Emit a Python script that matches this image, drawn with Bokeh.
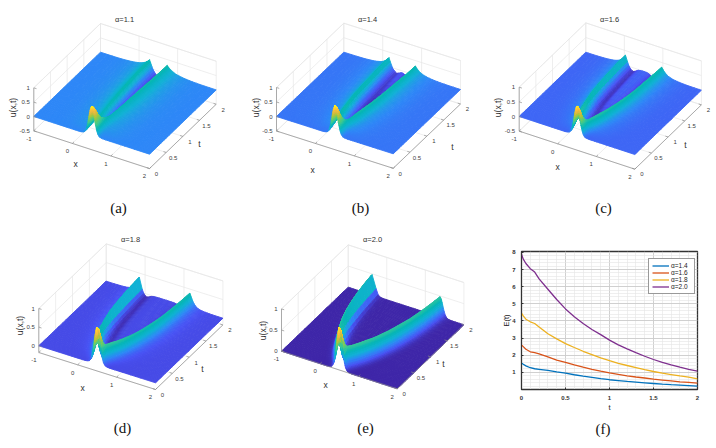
import numpy as np
from bokeh.embed import file_html
from bokeh.resources import INLINE
from bokeh.layouts import column, row
from bokeh.models import Range1d, FixedTicker, Legend, LegendItem, Title
from bokeh.plotting import figure
from bokeh.core.properties import value

# ---- values ----------------------------------------------------------
T_ROWS = [0, .05, .1, .15, .2, .3, .4, .5, .6, .8, 1, 1.25, 1.5, 1.75, 2]
RIDGE_TRAVEL_11 = [0, .015, .03, .045, .06, .08, .095, .11, .12, .145, .165, .185, .205, .22, .23]
RIDGE_TRAVEL_14 = [0, .02, .045, .065, .085, .125, .155, .18, .2, .24, .27, .29, .31, .33, .34]
RIDGE_TRAVEL_16 = [0, .03, .06, .09, .12, .175, .22, .255, .285, .34, .385, .42, .44, .46, .47]
RIDGE_TRAVEL_18 = [0, .04, .085, .125, .165, .24, .3, .35, .4, .47, .53, .58, .61, .635, .65]
RIDGE_TRAVEL_20 = [0, .05, .1, .15, .195, .28, .35, .415, .475, .58, .66, .74, .8, .845, .88]
RIDGE_U_11 = [.5, .48, .45, .42, .39, .35, .33, .32, .32, .31, .31, .31, .3, .3, .3]
RIDGE_U_14 = [.5, .485, .46, .43, .4, .37, .36, .35, .34, .33, .33, .32, .32, .31, .31]
RIDGE_U_16 = [.5, .49, .47, .45, .43, .40, .39, .38, .37, .36, .36, .35, .35, .35, .34]
RIDGE_U_18 = [.5, .49, .48, .47, .46, .44, .43, .42, .41, .40, .40, .39, .39, .39, .39]
RIDGE_U_20 = [.5, .5, .5, .5, .5, .5, .5, .49, .49, .49, .49, .48, .48, .48, .48]
TAIL_WEIGHT = [0, .1, .25, .36, .45, .6, .7, .76, .82, .9, .95, 1, 1, 1, 1]
DIST = [0, .02, .04, .06, .08, .1, .13, .16, .2, .25, .32, .4, .5, .65, .85, 1.1]
PULSE = [1, .96, .86, .72, .55, .4, .22, .1, .03, .01, 0, 0, 0, 0, 0, 0]
OUTER_11 = [1, .88, .78, .7, .62, .56, .48, .42, .34, .27, .2, .14, .09, .04, .01, 0]
OUTER_14 = [1, .88, .77, .68, .6, .53, .44, .37, .29, .23, .16, .11, .07, .03, .01, 0]
OUTER_16 = [1, .88, .77, .66, .58, .49, .4, .32, .25, .18, .12, .08, .045, .015, 0, 0]
OUTER_18 = [1, .88, .75, .62, .5, .4, .29, .2, .13, .08, .04, .02, .01, 0, 0, 0]
INNER_11 = [1, .8, .58, .36, .16, 0, -.17, -.3, -.36, -.28, -.12, -.04, 0, 0, 0, 0]
INNER_14 = [1, .8, .55, .32, .12, -.05, -.22, -.36, -.46, -.36, -.14, -.04, 0, 0, 0, 0]
INNER_16 = [1, .82, .58, .34, .14, 0, -.18, -.3, -.38, -.28, -.1, -.03, 0, 0, 0, 0]
INNER_18 = [1, .85, .62, .4, .2, .06, -.08, -.16, -.2, -.14, -.05, -.01, 0, 0, 0, 0]
PANEL_ALPHA = ["1.1", "1.4", "1.6", "1.8", "2.0"]
PANEL_TAG = ["(a)", "(b)", "(c)", "(d)", "(e)", "(f)"]
X_TICKS = [-1, 0, 1, 2]
T_TICKS = [0, .5, 1, 1.5, 2]
T_TICK_LABELS = ["0", "0.5", "1", "1.5", "2"]

ENERGY_T = [0, .02, .05, .1, .15, .2, .3, .4, .5, .6, .7, .8, .9, 1, 1.1, 1.2, 1.3, 1.4, 1.5, 1.6, 1.7, 1.8, 1.9, 2]
ENERGY_14 = [1.55, 1.47, 1.38, 1.27, 1.21, 1.18, 1.12, 1.03, .95, .86, .78, .71, .63, .57, .52, .47, .43, .39, .35, .31, .28, .26, .23, .2]
ENERGY_16 = [2.6, 2.5, 2.35, 2.2, 2.15, 2.08, 1.9, 1.72, 1.58, 1.43, 1.3, 1.18, 1.07, .97, .88, .8, .73, .67, .6, .55, .5, .45, .41, .37]
ENERGY_18 = [4.45, 4.3, 4.1, 3.95, 3.85, 3.65, 3.25, 2.95, 2.68, 2.45, 2.23, 2.04, 1.85, 1.68, 1.53, 1.4, 1.28, 1.16, 1.05, .95, .87, .79, .72, .62]
ENERGY_20 = [7.9, 7.6, 7.35, 7.05, 6.85, 6.45, 5.85, 5.25, 4.7, 4.25, 3.85, 3.5, 3.2, 2.88, 2.6, 2.37, 2.15, 1.94, 1.75, 1.58, 1.43, 1.3, 1.18, 1.07]

SURFACES = [
    (RIDGE_TRAVEL_11, RIDGE_U_11, OUTER_11, INNER_11),
    (RIDGE_TRAVEL_14, RIDGE_U_14, OUTER_14, INNER_14),
    (RIDGE_TRAVEL_16, RIDGE_U_16, OUTER_16, INNER_16),
    (RIDGE_TRAVEL_18, RIDGE_U_18, OUTER_18, INNER_18),
    (RIDGE_TRAVEL_20, RIDGE_U_20, PULSE, PULSE),
]

# ---- view geometry of each 3-D box (page pixels) -----------------------
CELLS = [(0, 0, 239, 224), (239, 0, 239, 224), (478, 0, 238, 224), (0, 224, 239, 224), (239, 224, 239, 224)]
VIEWS = [
    dict(c00=(33.3, 116), c10=(149, 153.7), c02=(100, 51.7), zs=28.7, zmin=-.5, zt=[-.5, 0, .5, 1], clo=-.25,
         title=(124, 19), tag=(118, 207), ul=(12, 107), xl=(75, 163), tl=(199, 143)),
    dict(c00=(276, 116), c10=(392.7, 153.3), c02=(343.3, 51.7), zs=29, zmin=-.5, zt=[-.5, 0, .5, 1], clo=-.2,
         title=(367, 19), tag=(360, 207), ul=(255, 107), xl=(312, 169), tl=(452, 146)),
    dict(c00=(518.7, 116), c10=(634.3, 154), c02=(585.3, 51.7), zs=29.3, zmin=-.5, zt=[-.5, 0, .5, 1], clo=-.16,
         title=(609, 19), tag=(603, 207), ul=(497, 107), xl=(557, 166), tl=(685, 144)),
    dict(c00=(38.3, 345.3), c10=(155, 382.3), c02=(105.7, 280.7), zs=37.3, zmin=-.18, zt=[0, .5, 1], clo=-.09,
         title=(130, 239), tag=(122, 427), ul=(19, 325), xl=(82, 387), tl=(202, 368)),
    dict(c00=(281, 350.7), c10=(396.7, 388.3), c02=(347.7, 286.7), zs=42.3, zmin=0, zt=[0, .5, 1], clo=0,
         title=(372, 239), tag=(365, 427), ul=(262, 330), xl=(325, 384), tl=(443, 363)),
]
PAR_POS = [0, .1, .2, .3, .4, .5, .6, .7, .8, .9, 1]
PAR_R = [.2422, .281, .1786, .0689, .0215, .2161, .4, .672, .88, .997, .9769]
PAR_G = [.1504, .3228, .5289, .6948, .7121, .7843, .8, .7793, .72, .7659, .9839]
PAR_B = [.6603, .9579, .9682, .8394, .7121, .5923, .42, .2227, .25, .2199, .0805]


def parula(f):
    f = float(np.clip(f, 0, 1))
    return "#%02x%02x%02x" % tuple(int(round(255 * np.interp(f, PAR_POS, c))) for c in (PAR_R, PAR_G, PAR_B))


def make_projection(v):
    c00, c10, c02 = map(np.array, (v["c00"], v["c10"], v["c02"]))

    def proj(x, t, z):
        a, b = (np.asarray(x, float) + 1) / 3, np.asarray(t, float) / 2
        px = c00[0] + a * (c10[0] - c00[0]) + b * (c02[0] - c00[0])
        py = c00[1] + a * (c10[1] - c00[1]) + b * (c02[1] - c00[1]) - np.asarray(z, float) * v["zs"]
        return px, py
    return proj


def side_profile(dist, t, table):
    w = np.interp(t, T_ROWS, TAIL_WEIGHT)
    return (1 - w) * np.interp(dist, DIST, PULSE) + w * np.interp(dist, DIST, table)


def halves(values):
    v = list(values)
    return sorted(set(v) | {(a + b) / 2 for a, b in zip(v[:-1], v[1:])})


def surface_rows(spec):
    travel, amp, outer, inner = spec
    # rendering rows and columns: the table's, each shaded across two steps
    rows = halves(T_ROWS)
    d = np.array(halves(DIST)[1:])
    frac = np.array(halves([.06, .12, .18, .24, .3, .36, .43, .5, .57, .64, .7, .76, .82, .88, .94]))
    xs, us = [], []
    for t in rows:
        f, A = np.interp(t, T_ROWS, travel), np.interp(t, T_ROWS, amp)
        xl, xr = .5 - f, .5 + f
        col = np.concatenate([[-1], np.clip(xl - d[::-1], -1, 2), [xl], xl + frac * (xr - xl), [xr],
                              np.clip(xr + d, -1, 2), [2]])
        u = np.zeros_like(col)
        for i, x in enumerate(col):
            left = side_profile(xl - x, t, outer) if x < xl else side_profile(x - xl, t, inner)
            right = side_profile(x - xr, t, outer) if x > xr else side_profile(xr - x, t, inner)
            u[i] = A * (left + right)
        xs.append(col)
        us.append(u)
    return np.array(rows), np.array(xs), np.array(us)


def text(p, x, y, s, size, color="#404040", align="center", angle=0, font="Liberation Sans"):
    p.text([x], [y], text=[s], text_font=value(font), text_font_size=f"{size}px", text_color=color,
           text_align=align, text_baseline="middle", angle=angle)


def surface_panel(i):
    v, (ox, oy, w, h) = VIEWS[i], CELLS[i]
    p = figure(width=w, height=h, output_backend="svg", toolbar_location=None,
               x_range=Range1d(ox, ox + w), y_range=Range1d(oy + h, oy), min_border=0, frame_align=False)
    p.axis.visible = False
    p.grid.visible = False
    p.outline_line_color = None
    proj = make_projection(v)
    zmin, zmax = v["zmin"], 1

    # walls and floor of the box
    gx, gy = [], []

    def poly(pts):
        px, py = proj(*zip(*pts))
        gx.append(list(px))
        gy.append(list(py))
    for z in v["zt"] + [zmax]:
        poly([(-1, 0, z), (-1, 2, z), (2, 2, z)])
    for t in T_TICKS:
        poly([(-1, t, zmax), (-1, t, zmin), (2, t, zmin)])
    for x in X_TICKS:
        poly([(x, 2, zmax), (x, 2, zmin), (x, 0, zmin)])
    p.multi_line(gx, gy, line_color="#e6e6e6", line_width=.7)

    # surface
    rows, xs, us = surface_rows(SURFACES[i])
    lo = v["clo"]
    cells = []
    for r in range(len(rows) - 1):
        for c in range(xs.shape[1] - 1):
            qx = [xs[r, c], xs[r, c + 1], xs[r + 1, c + 1], xs[r + 1, c]]
            qt = [rows[r], rows[r], rows[r + 1], rows[r + 1]]
            qu = [us[r, c], us[r, c + 1], us[r + 1, c + 1], us[r + 1, c]]
            if max(qx) - min(qx) < 1e-9:
                continue
            bx, by = proj(qx, qt, np.zeros(4))
            sx, sy = proj(qx, qt, qu)
            cells.append((float(np.mean(by)), list(sx), list(sy), parula((np.mean(qu) - lo) / (1 - lo))))
    cells.sort(key=lambda q: q[0])
    p.patches([q[1] for q in cells], [q[2] for q in cells], fill_color=[q[3] for q in cells],
              line_color=[q[3] for q in cells], line_width=.9)

    # axes
    ax, ay = [], []

    def seg(pts):
        px, py = proj(*zip(*pts))
        ax.append(list(px))
        ay.append(list(py))
    seg([(-1, 0, zmin), (2, 0, zmin), (2, 2, zmin)])
    seg([(-1, 0, zmin), (-1, 0, zmax)])
    for x in X_TICKS:
        seg([(x, 0, zmin), (x, .05, zmin)])
        px, py = proj(x, 0, zmin)
        text(p, float(px) - 5, float(py) + 7.7, str(x), 6)
    for t, lab in zip(T_TICKS, T_TICK_LABELS):
        seg([(2, t, zmin), (1.93, t, zmin)])
        px, py = proj(2, t, zmin)
        text(p, float(px) + 7, float(py) + 5.3, lab, 6)
    for z in v["zt"]:
        seg([(-1, 0, z), (-.93, 0, z)])
        px, py = proj(-1, 0, z)
        text(p, float(px) - 4, float(py), f"{z:g}", 6, align="right")
    p.multi_line(ax, ay, line_color="#8c8c8c", line_width=.7)

    text(p, *v["title"], "α=" + PANEL_ALPHA[i], 7.5, "#303030")
    text(p, *v["ul"], "u(x,t)", 8.5, "#303030", angle=np.pi / 2)
    text(p, *v["xl"], "x", 8.5, "#303030")
    text(p, *v["tl"], "t", 8.5, "#303030")
    text(p, *v["tag"], PANEL_TAG[i], 15, "#111111", font="Liberation Serif")
    return p


def energy_panel():
    p = figure(width=238, height=224, output_backend="svg", toolbar_location=None,
               x_range=Range1d(0, 2), y_range=Range1d(0, 8.05), frame_align=False,
               min_border_left=43, min_border_right=19, min_border_top=27, min_border_bottom=59,
               x_axis_label="t", y_axis_label="E(t)")
    series = [("1.4", ENERGY_14, "#0072BD"), ("1.6", ENERGY_16, "#D95319"),
              ("1.8", ENERGY_18, "#EDB120"), ("2.0", ENERGY_20, "#7E2F8E")]
    items = []
    for lab, y, col in series:
        r = p.line(ENERGY_T, y, line_color=col, line_width=1.3)
        items.append(LegendItem(label=value("α=" + lab), renderers=[r]))
    p.xaxis.ticker = FixedTicker(ticks=T_TICKS, minor_ticks=[k / 10 for k in range(21)])
    p.yaxis.ticker = FixedTicker(ticks=list(range(1, 9)), minor_ticks=[k / 5 for k in range(41)])
    p.xaxis.major_label_overrides = {0: "0", 0.5: "0.5", 1: "1", 1.5: "1.5", 2: "2"}
    for ax in (p.xaxis, p.yaxis):
        ax.major_label_text_font = "Liberation Sans"
        ax.major_label_text_font_size = "6px"
        ax.major_label_text_font_style = "bold"
        ax.major_label_text_color = "#333333"
        ax.axis_label_text_font = "Liberation Sans"
        ax.axis_label_text_font_size = "7.5px"
        ax.axis_label_text_font_style = "normal"
        ax.axis_label_text_color = "#222222"
        ax.major_tick_in = 2
        ax.major_tick_out = 0
        ax.minor_tick_line_color = None
        ax.axis_line_color = "#333333"
        ax.major_tick_line_color = "#333333"
        ax.major_label_standoff = 2
    p.xaxis.axis_label_standoff = 0
    p.yaxis.axis_label_standoff = -2
    p.grid.grid_line_color = "#c8c8c8"
    p.grid.grid_line_width = .8
    p.grid.minor_grid_line_color = "#e4e4e4"
    p.grid.minor_grid_line_width = .6
    p.outline_line_color = "#333333"
    p.outline_line_width = 1.3
    leg = Legend(items=items, location=(127, 95), padding=3, margin=0, spacing=0, label_height=7, glyph_height=7,
                 glyph_width=17, label_standoff=2, label_text_font="Liberation Sans", label_text_font_size="6.5px",
                 label_text_color="#222222", border_line_color="#333333", border_line_width=1.2,
                 background_fill_alpha=1)
    p.add_layout(leg, "center")
    tag = Title(text=PANEL_TAG[5], text_font="Liberation Serif", text_font_size="15px", text_font_style="normal",
                text_color="#111111", align="left", offset=74, standoff=9)
    p.add_layout(tag, "below")
    return p


panels = [surface_panel(i) for i in range(5)] + [energy_panel()]
page = column(row(panels[0], panels[1], panels[2]), row(panels[3], panels[4], panels[5]))
open("out.html", "w").write(file_html(page, INLINE))
